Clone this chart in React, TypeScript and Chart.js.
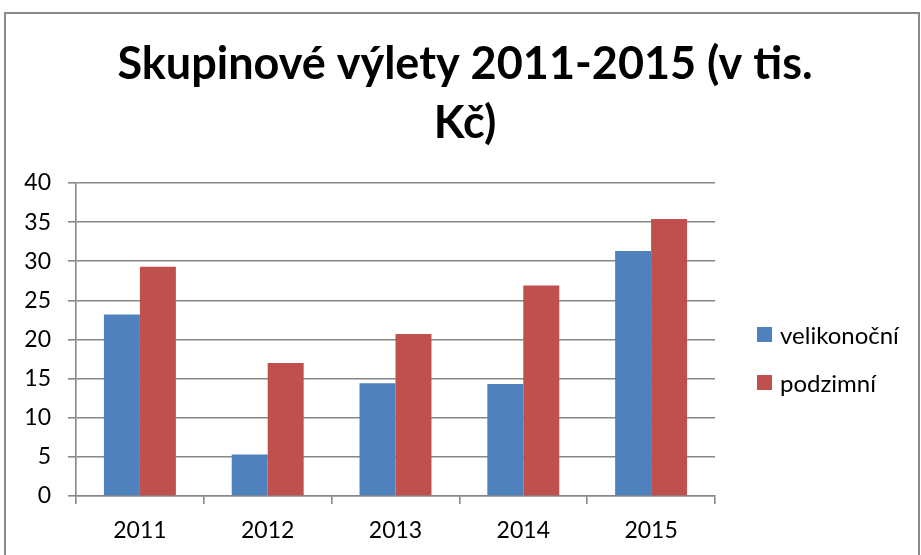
import React, { useEffect, useRef } from "react";
import { Chart, registerables } from "chart.js";

Chart.register(...registerables);

const categories = ["2011", "2012", "2013", "2014", "2015"];
const velikonocni = [23.2, 5.3, 14.4, 14.3, 31.3];
const podzimni = [29.3, 17.0, 20.7, 26.9, 35.4];
const seriesNames = ["velikonoční", "podzimní"];
const titleLines = ["Skupinové výlety 2011-2015 (v tis.", "Kč)"];
const yMin = 0;
const yMax = 40;
const yStep = 5;

const BLUE = "#4F81BD";
const RED = "#C0504D";
const GRID = "#878787";
const FONT = "Lato, 'Open Sans', sans-serif";

const titlePlugin = {
  id: "wideTitle",
  afterDraw(chart: any) {
    const ctx = chart.ctx;
    ctx.save();
    ctx.fillStyle = "#000";
    ctx.font = `bold 45px ${FONT}`;
    ctx.textAlign = "center";
    ctx.textBaseline = "alphabetic";
    titleLines.forEach((line, i) => {
      ctx.fillText(line, 465, 79 + 59 * i);
    });
    ctx.restore();
  },
};

const legendPlugin = {
  id: "sideLegend",
  afterDraw(chart: any) {
    const ctx = chart.ctx;
    ctx.save();
    chart.data.datasets.forEach((ds: any, i: number) => {
      const y = 327 + 48 * i;
      ctx.fillStyle = ds.backgroundColor;
      ctx.fillRect(757, y, 15, 15);
      ctx.fillStyle = "#000";
      ctx.font = `24px ${FONT}`;
      ctx.textBaseline = "middle";
      ctx.textAlign = "left";
      ctx.fillText(ds.label, 780, y + 9);
    });
    ctx.restore();
  },
};

export default function App() {
  const ref = useRef<HTMLCanvasElement | null>(null);
  useEffect(() => {
    if (!ref.current) return;
    const chart = new Chart(ref.current, {
      type: "bar",
      data: {
        labels: categories,
        datasets: [
          { label: seriesNames[0], data: velikonocni, backgroundColor: BLUE, categoryPercentage: 0.563, barPercentage: 1 },
          { label: seriesNames[1], data: podzimni, backgroundColor: RED, categoryPercentage: 0.563, barPercentage: 1 },
        ],
      },
      options: {
        animation: false,
        responsive: false,
        devicePixelRatio: 1,
        layout: { padding: { left: 0, right: 206, top: 183, bottom: 0 } },
        plugins: {
          legend: { display: false },
          tooltip: { enabled: false },
          title: { display: false },
        },
        scales: {
          x: {
            grid: { offset: true, drawOnChartArea: false, drawTicks: true, tickLength: 8, color: GRID, lineWidth: 1.6 },
            border: { display: true, color: GRID, width: 1.6 },
            ticks: { color: "#000", font: { family: FONT, size: 23 }, padding: 13, maxRotation: 0 },
            afterFit(scale: any) { scale.height = 59; },
          },
          y: {
            min: yMin,
            max: yMax,
            grid: { color: GRID, lineWidth: 1.6, tickLength: 8, drawTicks: true },
            border: { display: true, color: GRID, width: 1.6 },
            ticks: { stepSize: yStep, color: "#000", font: { family: FONT, size: 23 }, padding: 17 },
            afterFit(scale: any) { scale.width = 76; },
          },
        },
      },
      plugins: [titlePlugin, legendPlugin],
    } as any);
    return () => chart.destroy();
  }, []);
  return (
    <div style={{ position: "absolute", left: 0, top: 0, width: 921, height: 555, overflow: "hidden", background: "#fff" }}>
      <canvas ref={ref} width={921} height={555} style={{ display: "block", position: "absolute", left: 0, top: 0 }} />
      <div style={{ position: "absolute", left: 4, top: 12, width: 912, height: 560, border: "2px solid #8a8a8a", pointerEvents: "none" }} />
    </div>
  );
}
